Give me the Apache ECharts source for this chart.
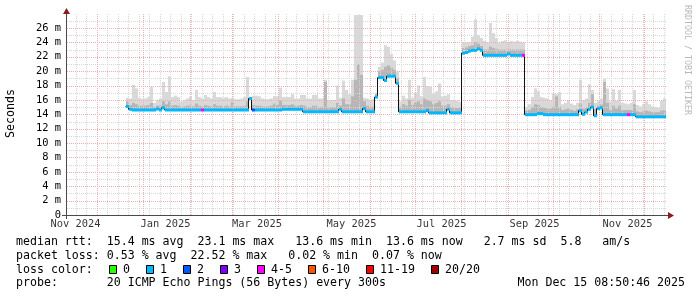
<!DOCTYPE html>
<html><head><meta charset="utf-8">
<script src="https://cdn.jsdelivr.net/npm/echarts@6/dist/echarts.min.js"></script>
<style>html,body{margin:0;padding:0;background:#fff}#c{width:697px;height:297px}</style>
</head><body><div id="c"></div>
<script>
// ---- data (2-day bins starting 2024-12-20 08:00 UTC) ----
const medianMs = [
15.1,14.7,14.6,14.6,14.6,14.6,14.6,14.6,14.6,14.6,
14.75,14.6,14.9,14.6,14.6,14.6,14.6,14.6,14.6,14.6,
14.6,14.6,14.6,14.6,14.6,14.6,14.6,14.6,14.6,14.6,
14.6,14.6,14.6,14.6,14.6,14.6,14.6,14.6,14.6,14.6,
14.6,16.2,14.6,14.6,14.6,14.6,14.6,14.6,14.6,14.6,
14.6,14.6,14.7,14.7,14.7,14.7,14.7,14.7,14.7,14.35,
14.35,14.35,14.35,14.35,14.35,14.35,14.35,14.35,14.35,14.35,
14.35,14.7,14.35,14.35,14.35,14.35,14.35,14.35,14.35,14.8,
14.35,14.35,14.35,16.4,19.1,19.1,18.7,19.3,19.3,19.3,
18.3,14.35,14.35,14.35,14.35,14.35,14.35,14.35,14.35,14.35,
14.55,14.2,14.2,14.2,14.2,14.2,14.2,14.7,14.2,14.2,
14.2,14.2,22.5,22.6,22.8,22.9,22.9,23.1,22.9,22.2,
22.2,22.2,22.2,22.2,22.2,22.2,22.2,22.4,22.2,22.2,
22.2,22.2,22.2,13.95,13.95,13.95,13.95,14.1,14.1,13.95,
13.95,13.95,13.95,13.95,13.95,13.95,13.95,13.95,13.95,13.95,
13.95,14.5,14.0,14.3,14.7,15.0,13.8,14.8,14.9,13.95,
13.95,13.95,13.95,13.95,13.95,13.95,13.95,13.95,13.95,13.95,
13.65,13.65,13.65,13.65,13.65,13.65,13.65,13.65,13.65,13.65
];
const smokeMid = [
15.8,15.3,15.6,15.4,15.2,15.2,15.2,15.3,15.6,15.0,
15.2,15.2,15.8,15.4,15.8,15.2,15.3,15.2,15.0,15.1,
15.2,15.2,15.1,15.5,15.2,15.1,15.3,15.2,15.1,15.4,
15.2,15.2,15.1,15.2,15.1,15.7,15.1,15.1,15.1,15.2,
15.8,16.3,15.3,15.2,15.2,15.1,15.1,15.1,15.2,15.5,
15.3,15.9,15.3,15.3,15.3,15.4,15.2,15.2,15.3,15.2,
15.0,15.0,15.2,15.2,15.0,15.0,18.5,15.0,15.0,15.0,
15.6,15.2,16.2,15.4,15.4,16.5,18.8,21.0,19.5,15.8,
15.2,15.0,15.1,16.8,20.0,20.2,20.6,20.8,20.5,20.2,
19.0,15.0,15.4,15.2,16.0,15.3,15.6,15.8,15.4,16.2,
16.0,15.8,15.4,15.6,15.8,15.2,15.2,15.4,15.0,14.9,
14.9,14.9,23.2,23.3,23.5,23.6,24.0,23.8,23.5,23.0,
23.0,23.4,23.2,23.1,23.0,23.0,23.0,23.0,23.0,23.0,
23.0,23.0,23.0,14.5,14.6,15.0,15.4,15.3,15.0,14.9,
14.8,14.8,15.0,16.5,15.0,14.6,14.7,14.8,14.6,14.5,
14.7,15.5,14.8,15.0,15.6,16.8,14.7,15.2,15.4,18.5,
15.6,14.6,15.2,14.8,15.2,14.6,14.6,14.6,14.6,15.4,
14.4,14.3,14.4,14.5,14.4,14.3,14.3,14.3,14.5,14.6
];
const smokeTop = [
16.3,16.2,18.1,17.6,16.3,16.1,16.2,16.4,17.8,15.6,
16.0,16.2,18.5,17.1,19.3,16.4,16.6,16.4,15.8,16.0,
16.2,16.4,16.0,17.4,16.4,16.2,16.7,16.4,16.2,17.1,
16.4,16.4,16.3,16.4,16.2,16.3,16.1,16.1,16.2,16.4,
19.2,16.4,16.6,16.6,16.5,16.2,16.1,16.1,16.2,16.55,
16.5,17.7,16.4,16.4,16.4,16.8,16.2,16.2,16.7,16.7,
16.2,16.2,16.7,16.7,16.2,16.2,18.8,16.0,16.0,16.0,
18.0,16.3,18.7,17.4,16.8,18.8,27.8,27.8,27.8,16.3,
16.2,16.0,16.1,17.0,20.6,21.2,23.6,23.4,22.4,21.5,
20.0,15.8,16.6,16.2,18.8,16.3,17.0,18.0,16.5,19.2,
17.9,17.8,16.9,17.2,18.3,16.5,16.6,16.8,16.0,15.9,
15.9,15.7,24.0,24.0,24.0,24.8,27.2,25.0,24.6,24.2,
24.0,26.7,25.3,24.6,24.0,24.2,24.3,24.0,24.2,24.1,
24.2,24.1,24.0,15.0,15.4,16.4,17.6,17.2,16.4,16.3,
16.2,16.0,16.9,16.8,17.1,15.4,15.6,16.0,15.5,15.3,
15.6,18.8,16.0,16.2,18.2,17.4,15.6,15.9,16.2,18.9,
17.6,15.8,17.5,15.9,17.4,15.6,15.5,15.4,15.6,17.4,
15.3,15.1,15.4,15.8,15.4,15.1,15.0,14.9,15.9,16.2
];
const lossIdx = [
1,1,1,1,1,1,1,1,1,1, 1,1,1,1,1,1,1,1,1,1,
1,1,1,1,1,4,1,1,1,1, 1,1,1,1,1,1,1,1,1,1,
1,1,2,1,1,1,1,1,1,1, 1,1,1,1,1,1,1,1,1,1,
1,1,1,1,1,1,1,1,1,1, 1,1,1,1,1,1,1,1,1,1,
1,1,1,1,1,1,1,1,1,1, 1,1,1,1,1,1,1,1,1,1,
1,1,1,1,1,1,1,1,1,1, 1,1,1,1,1,1,1,1,1,1,
1,1,1,1,1,1,1,1,1,1, 1,1,4,1,1,1,1,1,1,1,
1,1,1,1,1,1,1,1,1,1, 1,1,1,1,1,1,1,1,1,1,
1,1,1,1,1,1,1,4,1,1, 1,1,1,1,1,1,1,1,1,1
];
const lossLabels = ['0','1','2','3','4-5','6-10','11-19','20/20'];
const lossColors = ['#26ff00','#00b8ff','#0059ff','#7e00ff','#ff00ff','#ff5500','#ff0000','#a10000'];
const monthLabels = ['Nov 2024','Jan 2025','Mar 2025','May 2025','Jul 2025','Sep 2025','Nov 2025'];
const monthLabelDates = ['2024-11-17','2025-01-16','2025-03-18','2025-05-20','2025-07-19','2025-09-19','2025-11-20'];
const legendLines = [
  'median rtt:  15.4 ms avg  23.1 ms max   13.6 ms min  13.6 ms now   2.7 ms sd  5.8   am/s',
  'packet loss: 0.53 % avg  22.52 % max   0.02 % min  0.07 % now',
  'loss color:',
  'probe:       20 ICMP Echo Pings (56 Bytes) every 300s'
];
const stampText = 'Mon Dec 15 08:50:46 2025';

// ---- time frame ----
const DAY = 864e5;
const binStart0 = Date.UTC(2024, 11, 20, 8);
const binLen = 2 * DAY;
const xMin = Date.UTC(2024, 10, 11, 8);
const xMax = Date.UTC(2025, 11, 16, 8);
const labelTimes = monthLabelDates.map(d => new Date(d + 'T00:00:00Z').getTime());

const bins = medianMs.map((m, i) => [binStart0 + i * binLen, binStart0 + (i + 1) * binLen, m, smokeMid[i], smokeTop[i], lossIdx[i]]);
const medLine = medianMs.map((m, i) => [binStart0 + i * binLen, m]);
medLine.push([binStart0 + medianMs.length * binLen, medianMs[medianMs.length - 1]]);

// grid line positions (ticks): [time, value, major?]
const vGrid = [], hGrid = [];
for (let t = Date.UTC(2024, 10, 17); t < xMax; t += 7 * DAY) vGrid.push([t, 0, 0]);
for (let k = 0; k < 13; k++) vGrid.push([Date.UTC(2024, 11 + k, 1), 0, 1]);
for (let v = 1; v < 28; v++) hGrid.push([xMin, v, v % 2 === 0 ? 1 : 0]);
const minorC = '#d7d7d7', majorC = '#ebb0b0';

const mono = 'DejaVu Sans Mono';
const FS = 11.6;
const graphics = [];
graphics.push({ type: 'line', shape: { x1: 66.5, y1: 219, x2: 66.5, y2: 11 }, style: { stroke: '#4a4a4a', lineWidth: 1 }, z: 50 });
graphics.push({ type: 'line', shape: { x1: 62, y1: 215.5, x2: 670, y2: 215.5 }, style: { stroke: '#4a4a4a', lineWidth: 1 }, z: 50 });
graphics.push({ type: 'polygon', shape: { points: [[63, 14], [70, 14], [66.5, 8]] }, style: { fill: '#8e1b1b' }, z: 51 });
graphics.push({ type: 'polygon', shape: { points: [[668, 212], [668, 219], [674, 215.5]] }, style: { fill: '#8e1b1b' }, z: 51 });
graphics.push({ type: 'text', x: 11, y: 113.5, rotation: Math.PI / 2, style: { text: 'Seconds', font: FS + 'px "' + mono + '"', fill: '#000', align: 'center', verticalAlign: 'middle' } });
graphics.push({ type: 'text', x: 687, y: 60, rotation: -Math.PI / 2, style: { text: 'RRDTOOL / TOBI OETIKER', font: '8.3px "' + mono + '"', fill: '#b8b8b8', align: 'center', verticalAlign: 'middle' } });
const rowY = [241.5, 255.5, 269.5, 283.2];
legendLines.forEach((s, r) => graphics.push({ type: 'text', x: 16, y: rowY[r], style: { text: s, font: FS + 'px "' + mono + '"', fill: '#000', align: 'left', verticalAlign: 'middle' } }));
graphics.push({ type: 'text', x: 685, y: rowY[3], style: { text: stampText, font: FS + 'px "' + mono + '"', fill: '#000', align: 'right', verticalAlign: 'middle' } });
const swX = [109.5, 146.5, 183.5, 220.5, 257.5, 308.5, 366.5, 431.5];
lossLabels.forEach((lab, k) => {
  graphics.push({ type: 'rect', shape: { x: swX[k], y: 265.5, width: 7, height: 8 }, style: { fill: lossColors[k], stroke: '#000', lineWidth: 1 } });
  graphics.push({ type: 'text', x: swX[k] + 13.5, y: rowY[2], style: { text: lab, font: FS + 'px "' + mono + '"', fill: '#000', align: 'left', verticalAlign: 'middle' } });
});

const chart = echarts.init(document.getElementById('c'), null, { renderer: 'canvas' });
chart.setOption({
  animation: false,
  backgroundColor: '#ffffff',
  grid: { left: 67, right: 30, top: 14, bottom: 82, containLabel: false },
  xAxis: {
    type: 'time', min: xMin, max: xMax,
    axisLine: { show: false }, axisTick: { show: false }, splitLine: { show: false },
    axisLabel: { show: false }
  },
  yAxis: {
    type: 'value', min: 0, max: 27.95, interval: 2,
    axisLine: { show: false }, axisTick: { show: false }, splitLine: { show: false },
    axisLabel: {
      formatter: v => (Math.abs(v % 2) > 1e-6 ? '' : (v === 0 ? '0' : v + ' m')),
      fontFamily: mono, fontSize: 10.4, color: '#000', margin: 6
    }
  },
  graphic: graphics,
  series: [
    {
      type: 'custom', z: 1, silent: true,
      data: bins,
      encode: { x: [0, 1], y: [2, 3, 4] },
      renderItem: (params, api) => {
        const t0 = api.value(0), t1 = api.value(1), lo = api.value(2), mid = api.value(3), hi = api.value(4);
        const a = api.coord([t0, lo]), b = api.coord([t1, hi]), m = api.coord([t1, mid]);
        const x0 = Math.round(a[0]), x1 = Math.round(b[0]);
        return { type: 'group', children: [
          { type: 'rect', shape: { x: x0, y: b[1], width: x1 - x0, height: a[1] - b[1] }, style: { fill: '#d9d9d9' } },
          { type: 'rect', shape: { x: x0, y: m[1], width: x1 - x0, height: a[1] - m[1] }, style: { fill: '#b6b6b6' } }
        ] };
      }
    },
    {
      type: 'custom', z: 2, silent: true, clip: false,
      data: vGrid, encode: { x: 0, y: 1 },
      renderItem: (params, api) => {
        const cs = params.coordSys;
        const x = Math.round(api.coord([api.value(0), 0])[0]) + 0.5;
        const major = api.value(2) === 1;
        return { type: 'line', z2: major ? 2 : 1, shape: { x1: x, y1: cs.y, x2: x, y2: cs.y + cs.height },
          style: { stroke: major ? majorC : minorC, lineWidth: 1, lineDash: [1, 1] } };
      }
    },
    {
      type: 'custom', z: 2, silent: true, clip: false,
      data: hGrid, encode: { x: 0, y: 1 },
      renderItem: (params, api) => {
        const cs = params.coordSys;
        const y = Math.round(api.coord([api.value(0), api.value(1)])[1]) + 0.5;
        const major = api.value(2) === 1;
        return { type: 'line', z2: major ? 2 : 1, shape: { x1: cs.x, y1: y, x2: cs.x + cs.width, y2: y },
          style: { stroke: major ? majorC : minorC, lineWidth: 1, lineDash: [1, 1] } };
      }
    },
    {
      type: 'line', z: 3, silent: true, step: 'end', symbol: 'none',
      data: medLine, lineStyle: { color: '#111', width: 1 }
    },
    {
      type: 'custom', z: 4, silent: true,
      data: bins,
      encode: { x: [0, 1], y: 2 },
      renderItem: (params, api) => {
        const t0 = api.value(0), t1 = api.value(1), med = api.value(2), lz = api.value(5);
        const a = api.coord([t0, med]), b = api.coord([t1, med]);
        const x0 = Math.round(a[0]), x1 = Math.round(b[0]);
        return { type: 'rect', shape: { x: x0, y: a[1] - 1.5, width: x1 - x0, height: 3 }, style: { fill: lossColors[lz] } };
      }
    },
    {
      type: 'scatter', z: 5, silent: true, clip: false,
      data: labelTimes.map(t => [t, 0]),
      symbolSize: 0.01, itemStyle: { color: 'rgba(0,0,0,0)' },
      label: {
        show: true, position: 'bottom', distance: 4,
        formatter: p => monthLabels[p.dataIndex],
        fontFamily: mono, fontSize: 10.4, color: '#000'
      },
      labelLayout: { hideOverlap: false }
    }
  ]
});
</script>
</body></html>
